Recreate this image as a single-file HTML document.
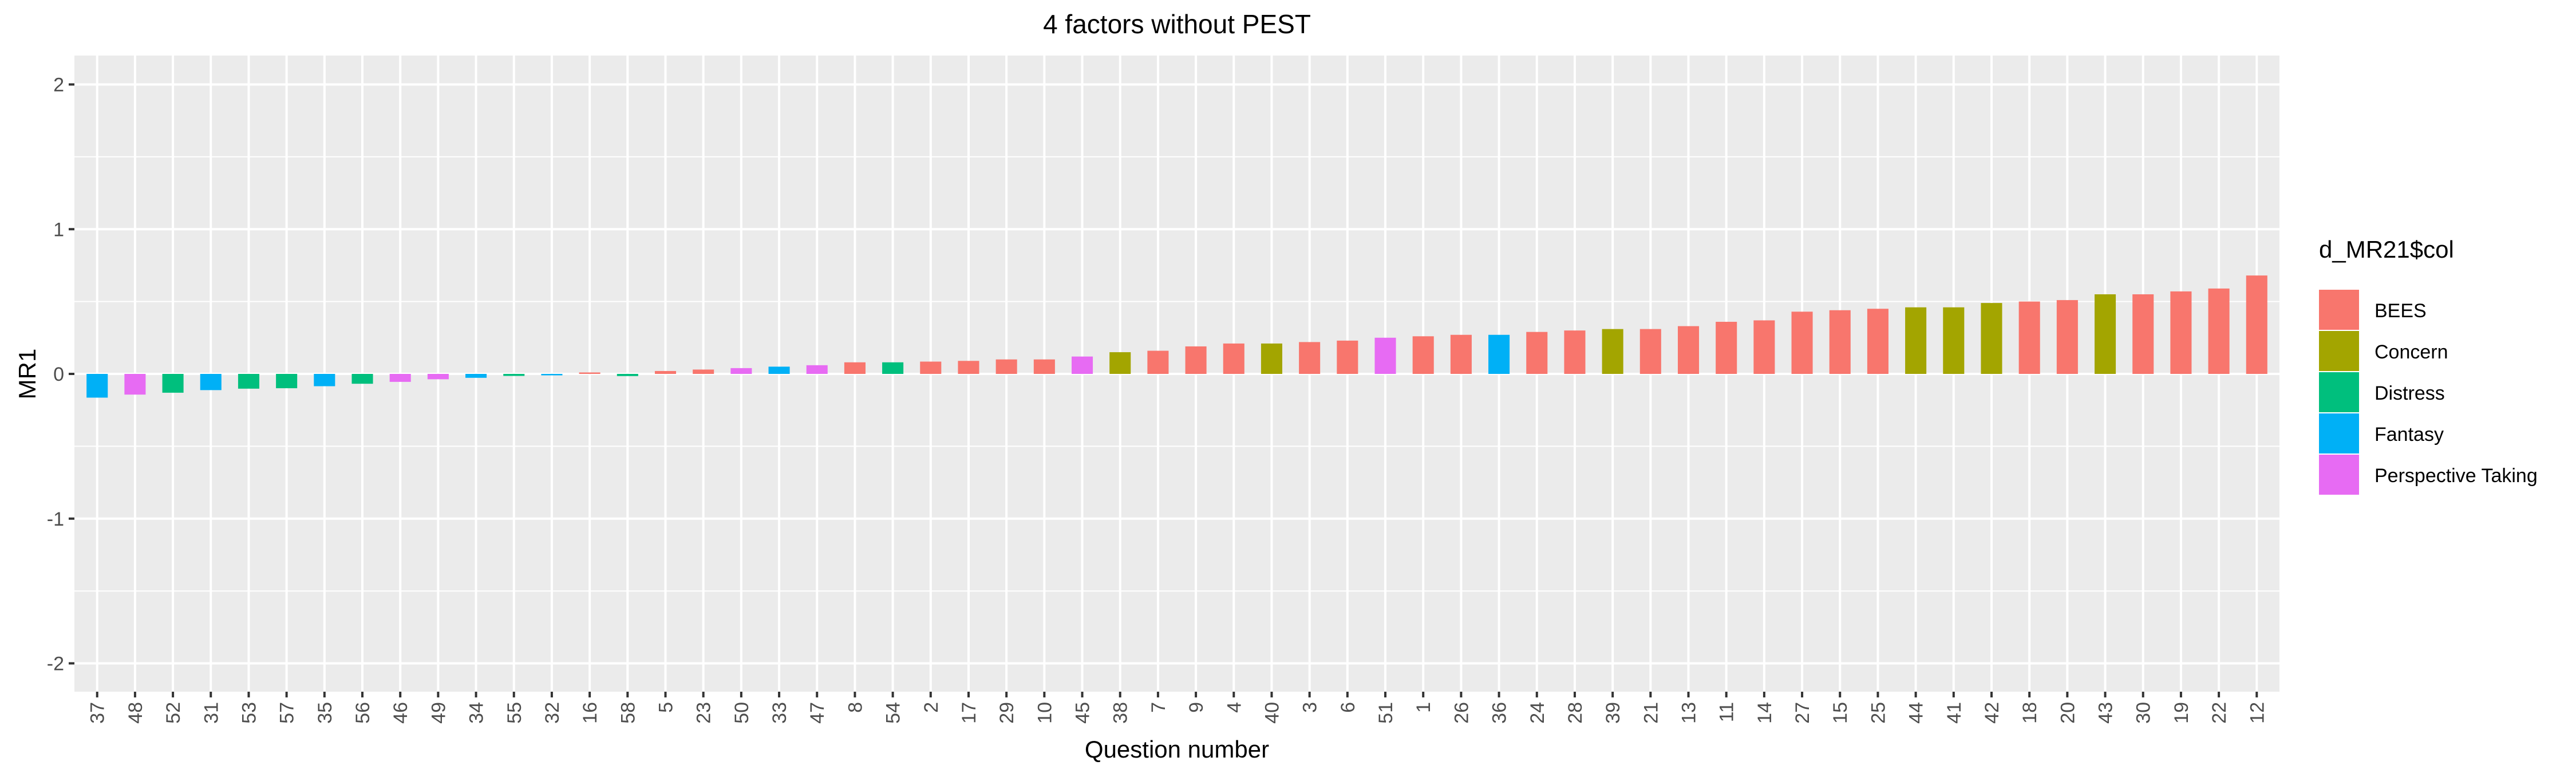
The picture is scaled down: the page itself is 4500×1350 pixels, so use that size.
<!DOCTYPE html>
<html><head><meta charset="utf-8"><style>body{margin:0;background:#fff}svg{display:block}text{font-family:"Liberation Sans",Arial,sans-serif}</style></head>
<body>
<svg id="chart" width="4500" height="1350" xmlns="http://www.w3.org/2000/svg">
<rect width="4500" height="1350" fill="#fff"/>
<text x="2056" y="58" font-size="46" text-anchor="middle" fill="#000">4 factors without PEST</text>
<rect x="130" y="97" width="3852" height="1111" fill="#ebebeb"/>
<g id="grid"></g><g id="bars"></g><g id="axes"></g>
<text transform="translate(62,653) rotate(-90)" font-size="42" text-anchor="middle" fill="#000">MR1</text>
<text x="2056" y="1323" font-size="42" text-anchor="middle" fill="#000">Question number</text>
<g>
<text x="4051" y="450" font-size="42" fill="#000">d_MR21$col</text>
<g id="legend-items"></g>
</g>
</svg>
<script>
const categories=["37","48","52","31","53","57","35","56","46","49","34","55","32","16","58","5","23","50","33","47","8","54","2","17","29","10","45","38","7","9","4","40","3","6","51","1","26","36","24","28","39","21","13","11","14","27","15","25","44","41","42","18","20","43","30","19","22","12"];
const values=[-0.164,-0.143,-0.13,-0.112,-0.102,-0.099,-0.085,-0.068,-0.055,-0.037,-0.027,-0.014,-0.01,0.01,-0.015,0.02,0.03,0.04,0.05,0.06,0.08,0.08,0.085,0.09,0.1,0.1,0.12,0.15,0.16,0.19,0.21,0.21,0.22,0.23,0.25,0.26,0.27,0.27,0.29,0.3,0.31,0.31,0.33,0.36,0.37,0.43,0.44,0.45,0.46,0.46,0.49,0.5,0.51,0.55,0.55,0.57,0.59,0.68];
const groups=["Fantasy","Perspective Taking","Distress","Fantasy","Distress","Distress","Fantasy","Distress","Perspective Taking","Perspective Taking","Fantasy","Distress","Fantasy","BEES","Distress","BEES","BEES","Perspective Taking","Fantasy","Perspective Taking","BEES","Distress","BEES","BEES","BEES","BEES","Perspective Taking","Concern","BEES","BEES","BEES","Concern","BEES","BEES","Perspective Taking","BEES","BEES","Fantasy","BEES","BEES","Concern","BEES","BEES","BEES","BEES","BEES","BEES","BEES","Concern","Concern","Concern","BEES","BEES","Concern","BEES","BEES","BEES","BEES"];
const legendLabels=["BEES","Concern","Distress","Fantasy","Perspective Taking"];
const legendColors=["#F8766D","#A3A500","#00BF7D","#00B0F6","#E76BF3"];
const yTicks=[-2,-1,0,1,2];
const yMinor=[-1.5,-0.5,0.5,1.5];

const NS="http://www.w3.org/2000/svg";
const panelL=130,panelR=3982,panelT=97,panelB=1208;
const n=categories.length;
const step=(panelR-panelL)/(n+0.2);
const x=i=>panelL+step*(0.6+i);
const y=v=>653-v*252.75;
function mk(tag,attrs,parent){const e=document.createElementNS(NS,tag);for(const k in attrs)e.setAttribute(k,attrs[k]);parent.appendChild(e);return e;}
const grid=document.getElementById('grid'),bars=document.getElementById('bars'),axes=document.getElementById('axes');
yMinor.forEach(v=>{const l=mk('line',{x1:panelL,x2:panelR,y1:y(v),y2:y(v),stroke:'#fff','stroke-width':2},grid);

});
yTicks.forEach(v=>{const l=mk('line',{x1:panelL,x2:panelR,y1:y(v),y2:y(v),stroke:'#fff','stroke-width':4},grid);


const t=mk('line',{x1:panelL-10,x2:panelL,y1:y(v),y2:y(v),stroke:'#333','stroke-width':4},axes);


const tx=mk('text',{x:panelL-18,y:y(v)+12,'font-size':34,'text-anchor':'end',fill:'#4d4d4d'},axes);
tx.textContent=v;

});
const colorOf=g=>legendColors[legendLabels.indexOf(g)];
const bw=step*0.56;
categories.forEach((c,i)=>{const cx=x(i);
const g=mk('line',{x1:cx,x2:cx,y1:panelT,y2:panelB,stroke:'#fff','stroke-width':4},grid);


const v=values[i];const y0=y(0),y1=y(v);
const r=mk('rect',{x:cx-bw/2,y:Math.min(y0,y1),width:bw,height:Math.max(Math.abs(y1-y0),1),fill:colorOf(groups[i])},bars);


const t=mk('line',{x1:cx,x2:cx,y1:panelB,y2:panelB+10,stroke:'#333','stroke-width':4},axes);


const tx=mk('text',{transform:`translate(${cx+12},${panelB+18}) rotate(-90)`,'font-size':34,'text-anchor':'end',fill:'#4d4d4d'},axes);
tx.textContent=c;

});
const li=document.getElementById('legend-items');
legendLabels.forEach((lab,i)=>{const ky=506+i*72;
const r=mk('rect',{x:4051,y:ky,width:70,height:70,fill:legendColors[i]},li);


const t=mk('text',{x:4148,y:ky+48,'font-size':34,fill:'#000'},li);
t.textContent=lab;

});
</script>
</body></html>
